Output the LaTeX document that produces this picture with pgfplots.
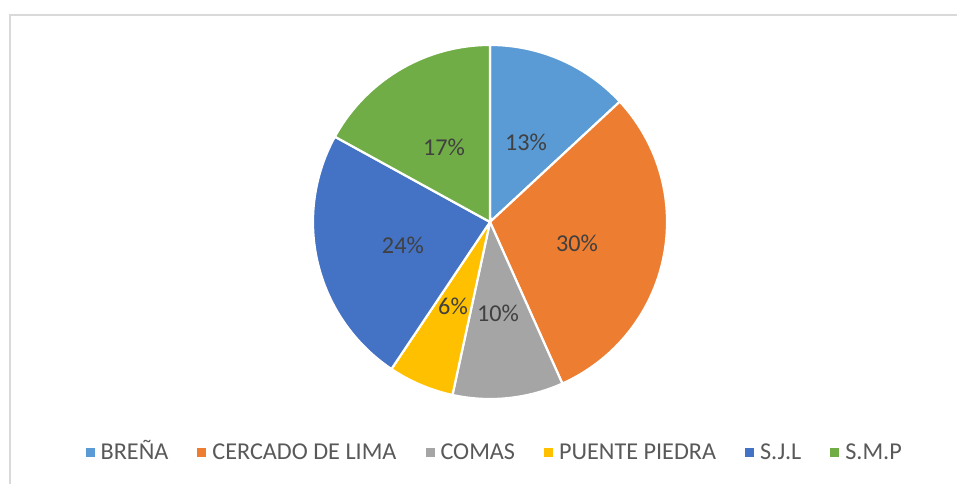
\documentclass[border=0pt]{standalone}
\usepackage{pgfplots}
\pgfplotsset{compat=1.18}
\usepackage{fontspec}
\setmainfont{Carlito}
\definecolor{cBrena}{HTML}{5B9BD5}
\definecolor{cCercado}{HTML}{ED7D31}
\definecolor{cComas}{HTML}{A5A5A5}
\definecolor{cPuente}{HTML}{FFC000}
\definecolor{cSJL}{HTML}{4472C4}
\definecolor{cSMP}{HTML}{70AD47}
\definecolor{labelcol}{HTML}{404040}
\definecolor{legcol}{HTML}{595959}
\definecolor{framecol}{HTML}{D9D9D9}
\begin{document}
\begin{tikzpicture}
% shares (percent)
\def\vA{13.1}\def\vB{30.2}\def\vC{10.1}\def\vD{6.0}\def\vE{23.6}\def\vF{17.0}
\pgfmathsetmacro{\aA}{90}
\pgfmathsetmacro{\aB}{\aA-3.6*\vA}
\pgfmathsetmacro{\aC}{\aB-3.6*\vB}
\pgfmathsetmacro{\aD}{\aC-3.6*\vC}
\pgfmathsetmacro{\aE}{\aD-3.6*\vD}
\pgfmathsetmacro{\aF}{\aE-3.6*\vE}
\pgfmathsetmacro{\aG}{\aF-3.6*\vF}
\begin{axis}[
  x=177pt, y=177pt,
  xmin=-2.768, xmax=2.638, ymin=-1.480, ymax=1.254,
  hide axis,
  clip=false,
  legend columns=6,
  legend style={draw=none, fill=none, at={(0.517,0.063)}, anchor=center,
    font=\fontsize{24.2}{29}\selectfont, text=legcol,
    /tikz/every even column/.append style={column sep=27pt},
    /tikz/every odd column/.append style={column sep=4pt},
    nodes={inner xsep=2pt, inner ysep=0pt, text height=18pt, text depth=5pt}},
  legend image code/.code={\fill[#1,draw=none] (0pt,-3.5pt) rectangle (9pt,5.5pt);},
  every axis plot/.append style={draw=white, line width=2.2pt, samples=60},
]
\addplot[fill=cBrena, domain=\aA:\aB] ({cos(x)},{sin(x)}) -- (0,0) -- cycle;
\addlegendentry{BREÑA}
\addplot[fill=cCercado, domain=\aB:\aC] ({cos(x)},{sin(x)}) -- (0,0) -- cycle;
\addlegendentry{CERCADO DE LIMA}
\addplot[fill=cComas, domain=\aC:\aD] ({cos(x)},{sin(x)}) -- (0,0) -- cycle;
\addlegendentry{COMAS}
\addplot[fill=cPuente, domain=\aD:\aE] ({cos(x)},{sin(x)}) -- (0,0) -- cycle;
\addlegendentry{PUENTE PIEDRA}
\addplot[fill=cSJL, domain=\aE:\aF] ({cos(x)},{sin(x)}) -- (0,0) -- cycle;
\addlegendentry{S.J.L}
\addplot[fill=cSMP, domain=\aF:\aG] ({cos(x)},{sin(x)}) -- (0,0) -- cycle;
\addlegendentry{S.M.P}
% data labels
\addplot[forget plot, draw=none, only marks, mark=none, nodes near coords,
  point meta=explicit symbolic,
  nodes near coords style={anchor=center, text=labelcol, font=\fontsize{24.2}{29}\selectfont}]
  coordinates {(0.203,0.452) [13\%] (0.492,-0.119) [30\%] (0.045,-0.514) [10\%]
               (-0.209,-0.475) [6\%] (-0.492,-0.130) [24\%] (-0.260,0.424) [17\%]};
% chart frame (top and left edges visible)
\addplot[forget plot, draw=framecol, line width=1.5pt, samples=2]
  coordinates {(-2.712,-1.480) (-2.712,1.1695) (2.638,1.1695)};
\end{axis}
\pgfresetboundingbox
\path (current axis.south west) rectangle (current axis.north east);
\end{tikzpicture}
\end{document}
